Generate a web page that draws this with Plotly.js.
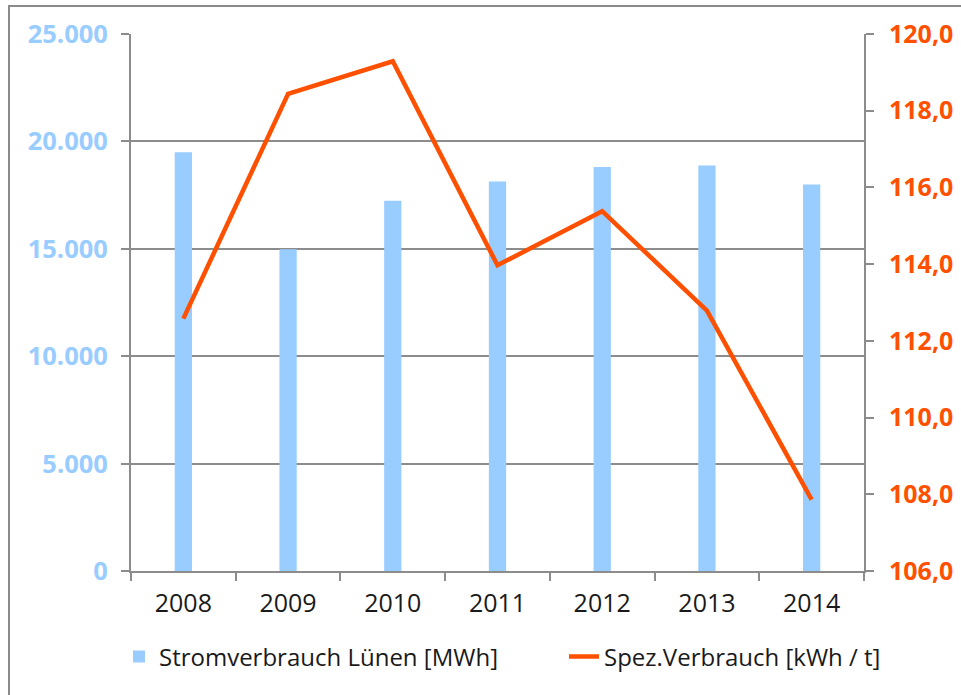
<!DOCTYPE html>
<html>
<head>
<meta charset="utf-8">
<script src="https://cdn.plot.ly/plotly-3.0.1.min.js"></script>
<style>
  html, body { margin: 0; padding: 0; background: #fff; }
  #wrap { position: relative; width: 961px; height: 695px; overflow: hidden; }
  #frame { position: absolute; left: 8px; top: 5px; width: 980px; height: 720px;
           border-left: 2px solid #8a8a8a; border-top: 2px solid #8a8a8a; pointer-events: none; z-index: 5; }
  #chart { position: absolute; left: 0; top: 0; width: 961px; height: 695px; }
</style>
</head>
<body>
<div id="wrap">
  <div id="chart"></div>
  <div id="frame"></div>
</div>
<script>
const years = ["2008", "2009", "2010", "2011", "2012", "2013", "2014"];
const stromverbrauch = [19500, 14980, 17240, 18130, 18810, 18880, 17990];
const spezVerbrauch = [112.58, 118.44, 119.29, 113.97, 115.38, 112.79, 107.86];
const leftTicks = [0, 5000, 10000, 15000, 20000, 25000];
const leftTickText = ["0", "5.000", "10.000", "15.000", "20.000", "25.000"];
const rightTicks = [106, 108, 110, 112, 114, 116, 118, 120];
const rightTickText = ["106,0", "108,0", "110,0", "112,0", "114,0", "116,0", "118,0", "120,0"];

const barColor = "#99CCFF";
const lineColor = "#FF5000";
const gridColor = "#8c8c8c";

const traces = [
  {
    type: "bar",
    name: "Stromverbrauch Lünen [MWh]",
    x: years,
    y: stromverbrauch,
    width: 0.165,
    marker: { color: barColor },
    yaxis: "y",
    legendwidth: 400
  },
  {
    type: "scatter",
    mode: "lines",
    name: "Spez.Verbrauch [kWh / t]",
    x: years,
    y: spezVerbrauch,
    line: { color: lineColor, width: 4.5 },
    yaxis: "y2",
    legendwidth: 290
  }
];

const layout = {
  width: 961,
  height: 695,
  margin: { l: 131, r: 97, t: 34, b: 124, pad: 0 },
  paper_bgcolor: "#ffffff",
  plot_bgcolor: "#ffffff",
  font: { family: "Open Sans, sans-serif", color: "#1a1a1a" },
  showlegend: true,
  legend: {
    orientation: "h",
    x: -0.0164, xanchor: "left",
    y: -0.16, yanchor: "middle",
    font: { size: 24, color: "#1a1a1a", family: "Open Sans, sans-serif" },
    traceorder: "normal"
  },
  xaxis: {
    type: "category",
    showgrid: false,
    showline: true,
    linecolor: gridColor,
    linewidth: 2,
    ticks: "outside",
    tickson: "boundaries",
    ticklen: 8,
    tickwidth: 2,
    tickcolor: gridColor,
    tickfont: { size: 25, color: "#1a1a1a", family: "Open Sans, sans-serif" },
    ticklabelstandoff: 9,
    zeroline: false
  },
  yaxis: {
    range: [0, 25000],
    tickvals: leftTicks,
    ticktext: leftTickText,
    showgrid: true,
    gridcolor: gridColor,
    gridwidth: 2,
    showline: true,
    linecolor: gridColor,
    linewidth: 2,
    ticks: "outside",
    ticklen: 8,
    tickwidth: 2,
    tickcolor: gridColor,
    tickfont: { size: 25.5, color: barColor, family: "Open Sans, sans-serif", weight: "bold" },
    ticklabelstandoff: 8,
    zeroline: false,
    fixedrange: true
  },
  yaxis2: {
    overlaying: "y",
    side: "right",
    range: [106, 120],
    tickvals: rightTicks,
    ticktext: rightTickText,
    showgrid: false,
    showline: true,
    linecolor: gridColor,
    linewidth: 2,
    ticks: "outside",
    ticklen: 8,
    tickwidth: 2,
    tickcolor: gridColor,
    tickfont: { size: 25, color: lineColor, family: "Open Sans, sans-serif", weight: "bold" },
    ticklabelstandoff: 10,
    zeroline: false
  },
  bargap: 0.8
};

Plotly.newPlot("chart", traces, layout, { displayModeBar: false, staticPlot: true });
</script>
</body>
</html>
